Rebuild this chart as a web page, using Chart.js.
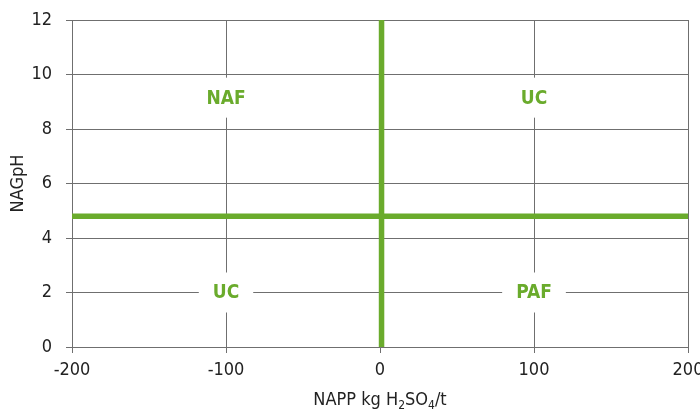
<!DOCTYPE html>
<html>
<head>
<meta charset="utf-8">
<script src="https://cdn.jsdelivr.net/npm/chart.js@4/dist/chart.umd.min.js"></script>
<style>
  html, body { margin: 0; padding: 0; background: #fff; }
  #wrap { width: 700px; height: 414px; }
</style>
</head>
<body>
<div id="wrap"><canvas id="c" width="700" height="414"></canvas></div>
<script>
// Axis ranges and ticks
const xTicks = [-200, -100, 0, 100, 200];
const yTicks = [0, 2, 4, 6, 8, 10, 12];

// Classification boundaries: NAPP = 1, NAGpH = 4.8
const nappBoundaryX = [1, 1];
const nappBoundaryY = [0, 12];
const phBoundaryX = [-200, 200];
const phBoundaryY = [4.8, 4.8];

// Zone labels and their anchor values
const zoneNames = ['NAF', 'UC', 'UC', 'PAF'];
const zoneX = [-100, 100, -100, 100];
const zoneY = [9.15, 9.15, 2.0, 2.0];

const GREEN = '#6aab2c';
const GRID = '#6f6f6f';
const FONT = '"DejaVu Sans Condensed", "Liberation Sans Narrow", sans-serif';

const zoneLabelPlugin = {
  id: 'zoneLabels',
  afterDatasetsDraw(chart) {
    const { ctx, scales } = chart;
    ctx.save();
    ctx.font = 'bold 19px ' + FONT;
    ctx.textAlign = 'center';
    ctx.textBaseline = 'middle';
    zoneNames.forEach((name, i) => {
      const px = scales.x.getPixelForValue(zoneX[i]);
      const py = scales.y.getPixelForValue(zoneY[i]);
      const w = ctx.measureText(name).width + 28;
      const h = 40;
      ctx.fillStyle = '#ffffff';
      ctx.fillRect(px - w / 2, py - h / 2, w, h);
      ctx.fillStyle = GREEN;
      ctx.fillText(name, px, py + 1);
    });
    ctx.restore();
  }
};

// X axis title with subscripts
const xTitlePlugin = {
  id: 'xTitle',
  afterDraw(chart) {
    const { ctx, chartArea } = chart;
    const parts = [
      ['NAPP kg H', false], ['2', true], ['SO', false], ['4', true], ['/t', false]
    ];
    const big = '18px ' + FONT;
    const small = '12px ' + FONT;
    ctx.save();
    let total = 0;
    parts.forEach(p => { ctx.font = p[1] ? small : big; total += ctx.measureText(p[0]).width; });
    let x = (chartArea.left + chartArea.right) / 2 - total / 2;
    const y = 405;
    ctx.fillStyle = '#222';
    ctx.textBaseline = 'alphabetic';
    ctx.textAlign = 'left';
    parts.forEach(p => {
      ctx.font = p[1] ? small : big;
      ctx.fillText(p[0], x, p[1] ? y + 4 : y);
      x += ctx.measureText(p[0]).width;
    });
    ctx.restore();
  }
};

new Chart(document.getElementById('c'), {
  type: 'scatter',
  data: {
    datasets: [
      {
        data: nappBoundaryX.map((x, i) => ({ x, y: nappBoundaryY[i] })),
        showLine: true, borderColor: GREEN, borderWidth: 5.5, pointRadius: 0, borderCapStyle: 'butt'
      },
      {
        data: phBoundaryX.map((x, i) => ({ x, y: phBoundaryY[i] })),
        showLine: true, borderColor: GREEN, borderWidth: 5.5, pointRadius: 0, borderCapStyle: 'butt'
      }
    ]
  },
  options: {
    responsive: false,
    animation: false,
    devicePixelRatio: 1,
    layout: { padding: { top: 20, right: 12, bottom: 28, left: 0 } },
    plugins: { legend: { display: false }, tooltip: { enabled: false } },
    scales: {
      x: {
        type: 'linear',
        min: -200, max: 200,
        afterBuildTicks: s => { s.ticks = xTicks.map(v => ({ value: v })); },
        grid: { color: GRID, lineWidth: 1, tickLength: 6, drawTicks: true },
        border: { color: GRID, width: 1 },
        ticks: { color: '#222', font: { family: FONT, size: 18 }, padding: 7, maxRotation: 0 },
        afterFit: s => { s.height = 39; s.paddingLeft = 0; s.paddingRight = 0; }
      },
      y: {
        type: 'linear',
        min: 0, max: 12,
        afterBuildTicks: s => { s.ticks = yTicks.map(v => ({ value: v })); },
        grid: { color: GRID, lineWidth: 1, tickLength: 6, drawTicks: true },
        border: { color: GRID, width: 1 },
        ticks: { color: '#222', font: { family: FONT, size: 18 }, padding: 14 },
        title: { display: true, text: 'NAGpH', color: '#222', font: { family: FONT, size: 18 }, padding: { top: 8, bottom: 4 } },
        afterFit: s => { s.width = 72; s.paddingTop = 0; s.paddingBottom = 0; }
      }
    }
  },
  plugins: [zoneLabelPlugin, xTitlePlugin]
});
</script>
</body>
</html>
